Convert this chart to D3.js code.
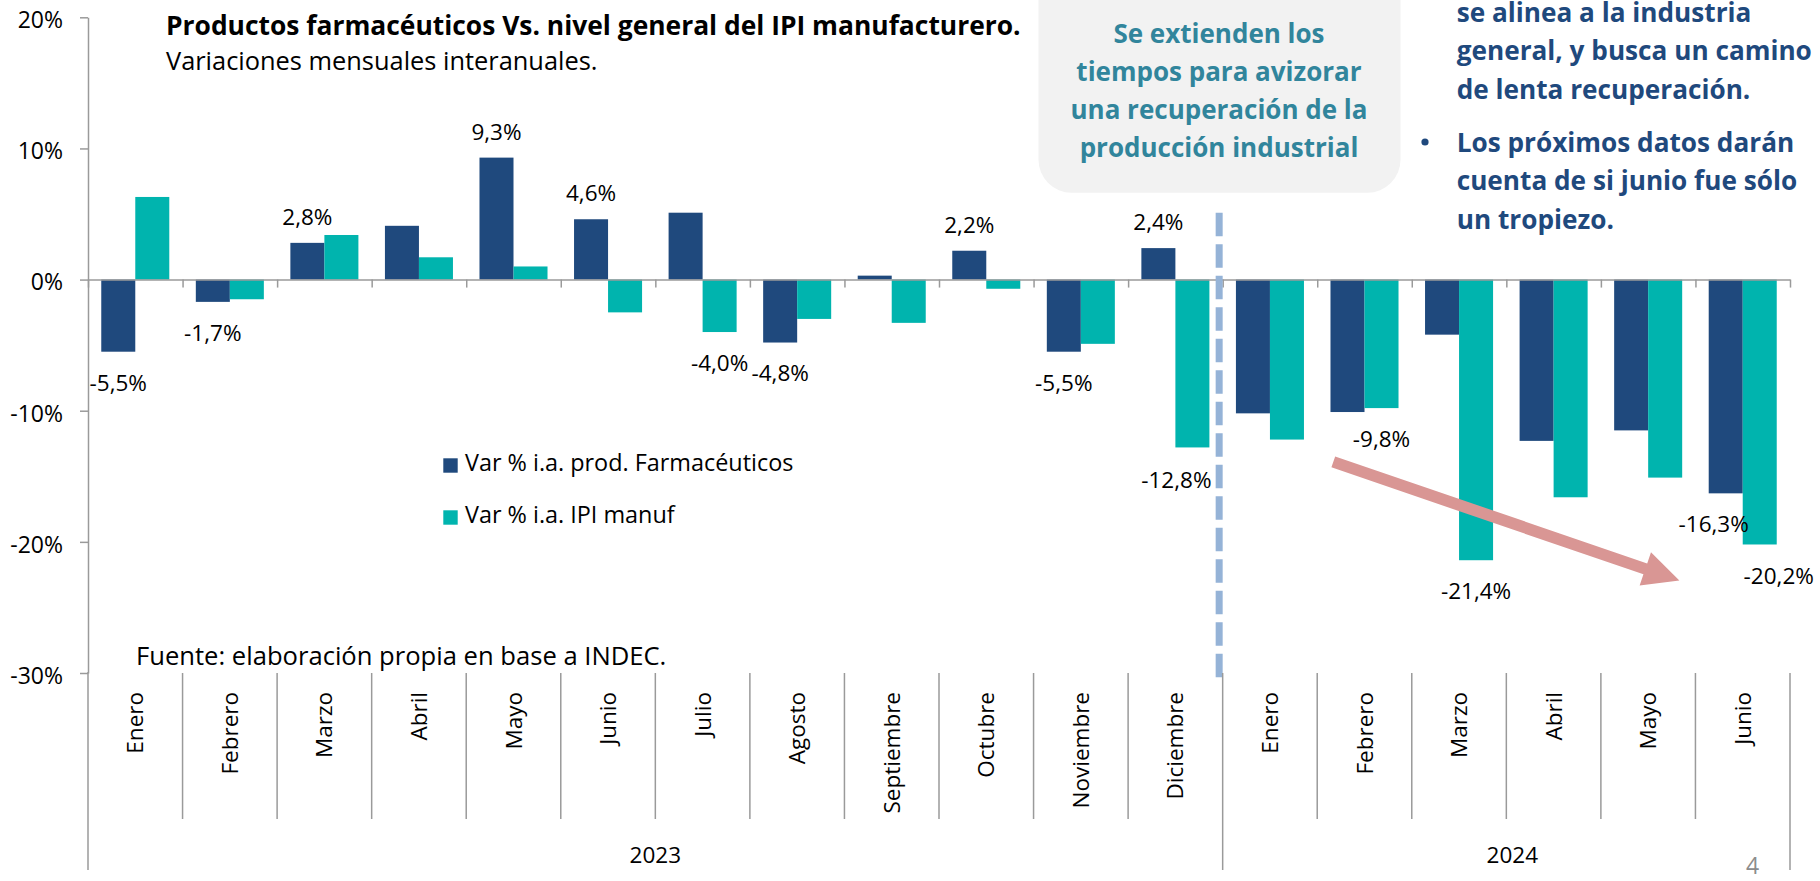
<!DOCTYPE html>
<html lang="es">
<head>
<meta charset="UTF-8">
<title>Productos farmacéuticos Vs. IPI manufacturero</title>
<script src="https://cdn.jsdelivr.net/npm/d3@7"></script>
<style>
  html, body { margin: 0; padding: 0; background: #fff; }
  svg { display: block; font-family: "Open Sans", sans-serif; }
</style>
</head>
<body>
<script>
var width = 1820
var height = 881

// datos
var years = ['2023', '2024']
var months2023 = ['Enero', 'Febrero', 'Marzo', 'Abril', 'Mayo', 'Junio', 'Julio', 'Agosto',
    'Septiembre', 'Octubre', 'Noviembre', 'Diciembre']
var months2024 = ['Enero', 'Febrero', 'Marzo', 'Abril', 'Mayo', 'Junio']
var farma = [-5.5, -1.7, 2.8, 4.1, 9.3, 4.6, 5.1, -4.8, 0.3, 2.2, -5.5, 2.4,
    -10.2, -10.1, -4.2, -12.3, -11.5, -16.3]
var ipi = [6.3, -1.5, 3.4, 1.7, 1.0, -2.5, -4.0, -3.0, -3.3, -0.7, -4.9, -12.8,
    -12.2, -9.8, -21.4, -16.6, -15.1, -20.2]
var yTicks = [20, 10, 0, -10, -20, -30]
var seriesNames = ['Var % i.a. prod. Farmacéuticos', 'Var % i.a. IPI manuf']
// qué barras llevan etiqueta (índice de mes)
var farmaLabelled = [0, 1, 2, 4, 5, 7, 9, 10, 11, 17]
var ipiLabelled = [6, 11, 13, 14, 17]

var colors = { farma: '#1f497d', ipi: '#00b4ae' }

// categorías: año + mes
var cats = months2023.map(function (m) { return { year: years[0], month: m } })
    .concat(months2024.map(function (m) { return { year: years[1], month: m } }))
cats.forEach(function (c, i) { c.key = c.year + '-' + c.month; c.i = i })

var svg = d3.select('body')
    .append('svg')
    .attr('width', width)
    .attr('height', height)

var x = d3.scaleBand()
    .domain(cats.map(function (c) { return c.key }))
    .range([88, 1790])
    .padding(0)

var xIdx = d3.scaleLinear()//límites entre categorías
    .domain([0, cats.length])
    .range(x.range())

var xs = d3.scaleBand()
    .domain(['farma', 'ipi'])
    .range([0, x.bandwidth()])
    .paddingOuter(0.39)

var y = d3.scaleLinear()
    .domain([-30, 20])
    .range([673, 17.3])

var fmt = d3.formatLocale({ decimal: ',', thousands: '.', grouping: [3], currency: ['$', ''], minus: '-' })
    .format('.1f')

var axisColor = '#9a9a9a'

// recuadro gris
svg.append('rect')
    .attr('x', 1038.5)
    .attr('y', -40)
    .attr('width', 362)
    .attr('height', 232.7)
    .attr('rx', 33)
    .attr('fill', '#f2f2f2')

var boxLines = ['Se extienden los', 'tiempos para avizorar', 'una recuperación de la', 'producción industrial']
svg.append('g')
    .selectAll('text')
    .data(boxLines)
    .enter()
    .append('text')
    .attr('x', 1219)
    .attr('y', function (d, i) { return 42.7 + i * 38 })
    .attr('text-anchor', 'middle')
    .attr('font-size', 26)
    .attr('font-weight', 'bold')
    .attr('fill', '#31859c')
    .text(function (d) { return d })

// texto lateral
var sideParas = [
    ['se alinea a la industria', 'general, y busca un camino', 'de lenta recuperación.'],
    ['Los próximos datos darán', 'cuenta de si junio fue sólo', 'un tropiezo.']
]
var sideTop = [21.5, 151.7]
sideParas.forEach(function (p, k) {
    var g = svg.append('g')
    g.selectAll('text')
        .data(p)
        .enter()
        .append('text')
        .attr('x', 1456.7)
        .attr('y', function (d, i) { return sideTop[k] + i * 38.5 })
        .attr('font-size', 26.2)
        .attr('font-weight', 'bold')
        .attr('fill', '#1f497d')
        .text(function (d) { return d })
    if (k === 1) {
        g.append('circle')
            .attr('cx', 1425)
            .attr('cy', 142)
            .attr('r', 3.6)
            .attr('fill', '#1f497d')
    }
})

// eje Y
var yAxis = svg.append('g')
    .attr('transform', 'translate(88,0)')
    .call(d3.axisLeft(y).tickValues(yTicks).tickSize(8).tickSizeOuter(0).tickPadding(17)
        .tickFormat(function (d) { return d + '%' }))
yAxis.select('.domain').attr('stroke', axisColor).attr('stroke-width', 1.5)
yAxis.selectAll('.tick line').attr('stroke', axisColor).attr('stroke-width', 1.5)
yAxis.selectAll('.tick text')
    .attr('font-size', 23)
    .attr('font-family', '"Open Sans", sans-serif')
    .attr('fill', '#000')
    .attr('dy', '0.45em')

// barras
var groups = svg.append('g')
    .selectAll('g')
    .data(cats)
    .enter()
    .append('g')
    .attr('transform', function (d) { return 'translate(' + x(d.key) + ',0)' })

groups.selectAll('rect')
    .data(function (d) {
        return [{ s: 'farma', v: farma[d.i] }, { s: 'ipi', v: ipi[d.i] }]
    })
    .enter()
    .append('rect')
    .attr('x', function (d) { return xs(d.s) })
    .attr('width', xs.bandwidth())
    .attr('y', function (d) { return y(Math.max(0, d.v)) })
    .attr('height', function (d) { return Math.abs(y(d.v) - y(0)) })
    .attr('fill', function (d) { return colors[d.s] })

// eje X en 0%
var xAxis = svg.append('g')
    .attr('transform', 'translate(0,' + y(0) + ')')
    .call(d3.axisBottom(xIdx).tickValues(d3.range(cats.length + 1)).tickSize(8).tickSizeOuter(0)
        .tickFormat(''))
xAxis.select('.domain').attr('stroke', axisColor).attr('stroke-width', 1.5)
xAxis.selectAll('.tick line').attr('stroke', axisColor).attr('stroke-width', 1.5)

// línea punteada de corte de año
var cutX = xIdx(months2023.length) - 3.5
svg.append('line')
    .attr('x1', cutX).attr('x2', cutX)
    .attr('y1', y(5.1)).attr('y2', y(-30.7))
    .attr('stroke', '#95b3d7')
    .attr('stroke-width', 7)
    .attr('stroke-dasharray', '23.5 8')

// etiquetas de datos
var nudge = { 'ipi-11': [-16, 2], 'farma-17': [-12, 0], 'ipi-17': [19, 1] }
var labelData = farmaLabelled.map(function (i) { return { s: 'farma', i: i, v: farma[i] } })
    .concat(ipiLabelled.map(function (i) { return { s: 'ipi', i: i, v: ipi[i] } }))
svg.append('g')
    .selectAll('text')
    .data(labelData)
    .enter()
    .append('text')
    .attr('x', function (d) {
        var n = nudge[d.s + '-' + d.i] || [0, 0]
        return x(cats[d.i].key) + xs(d.s) + xs.bandwidth() / 2 + n[0]
    })
    .attr('y', function (d) {
        var n = nudge[d.s + '-' + d.i] || [0, 0]
        return (d.v >= 0 ? y(d.v) - 18 : y(d.v) + 38.8) + n[1]
    })
    .attr('text-anchor', 'middle')
    .attr('font-size', 22.5)
    .attr('fill', '#000')
    .text(function (d) { return fmt(d.v) + '%' })

// flecha de tendencia
var arrowFrom = [x(cats[13].key) + x.bandwidth() * 0.17, y(-13.9)]
var arrowTo = [x(cats[16].key) + x.bandwidth() * 0.83, y(-22.95)]
var ang = Math.atan2(arrowTo[1] - arrowFrom[1], arrowTo[0] - arrowFrom[0]) * 180 / Math.PI
var len = Math.hypot(arrowTo[0] - arrowFrom[0], arrowTo[1] - arrowFrom[1])
var headL = 36, headW = 17.5, shaftW = 5.8
svg.append('path')
    .attr('transform', 'translate(' + arrowFrom + ') rotate(' + ang + ')')
    .attr('d', d3.line()([[0, -shaftW], [len - headL, -shaftW], [len - headL, -headW], [len, 0],
        [len - headL, headW], [len - headL, shaftW], [0, shaftW]]) + 'Z')
    .attr('fill', '#d99694')

// leyenda
var legend = svg.append('g')
    .selectAll('g')
    .data(seriesNames)
    .enter()
    .append('g')
    .attr('transform', function (d, i) { return 'translate(443.3,' + (458.3 + i * 52) + ')' })
legend.append('rect')
    .attr('width', 14.4)
    .attr('height', 14.4)
    .attr('fill', function (d, i) { return i === 0 ? colors.farma : colors.ipi })
legend.append('text')
    .attr('x', 21.7)
    .attr('y', 12.8)
    .attr('font-size', 23.4)
    .attr('fill', '#000')
    .text(function (d) { return d })

// separadores del eje de categorías
var yearEdges = [0, months2023.length, cats.length]
svg.append('g')
    .selectAll('line')
    .data(d3.range(cats.length + 1))
    .enter()
    .append('line')
    .attr('x1', function (d) { return xIdx(d) })
    .attr('x2', function (d) { return xIdx(d) })
    .attr('y1', function (d) { return d === 0 ? y(-30) - 1 : y(-30) })
    .attr('y2', function (d) { return yearEdges.indexOf(d) >= 0 ? 870 : 819 })
    .attr('stroke', axisColor)
    .attr('stroke-width', 1.5)

// meses
svg.append('g')
    .selectAll('text')
    .data(cats)
    .enter()
    .append('text')
    .attr('transform', function (d) {
        return 'translate(' + (x(d.key) + x.bandwidth() / 2) + ',692) rotate(-90)'
    })
    .attr('dy', '0.36em')
    .attr('text-anchor', 'end')
    .attr('font-size', 22.5)
    .attr('fill', '#000')
    .text(function (d) { return d.month })

// años
svg.append('g')
    .selectAll('text')
    .data(years)
    .enter()
    .append('text')
    .attr('x', function (d, i) { return (xIdx(yearEdges[i]) + xIdx(yearEdges[i + 1])) / 2 + (i === 1 ? 6 : 0) })
    .attr('y', 863)
    .attr('text-anchor', 'middle')
    .attr('font-size', 22.5)
    .attr('fill', '#000')
    .text(function (d) { return d })

// títulos
svg.append('text')
    .attr('x', 166)
    .attr('y', 35)
    .attr('font-size', 26.4)
    .attr('font-weight', 'bold')
    .attr('fill', '#000')
    .text('Productos farmacéuticos Vs. nivel general del IPI manufacturero.')
svg.append('text')
    .attr('x', 166)
    .attr('y', 70)
    .attr('font-size', 25.4)
    .attr('fill', '#000')
    .text('Variaciones mensuales interanuales.')
svg.append('text')
    .attr('x', 136)
    .attr('y', 665)
    .attr('font-size', 25.6)
    .attr('fill', '#000')
    .text('Fuente: elaboración propia en base a INDEC.')

// número de página
svg.append('text')
    .attr('x', 1746)
    .attr('y', 874)
    .attr('font-size', 23)
    .attr('fill', '#8c8c8c')
    .text('4')
</script>
</body>
</html>
